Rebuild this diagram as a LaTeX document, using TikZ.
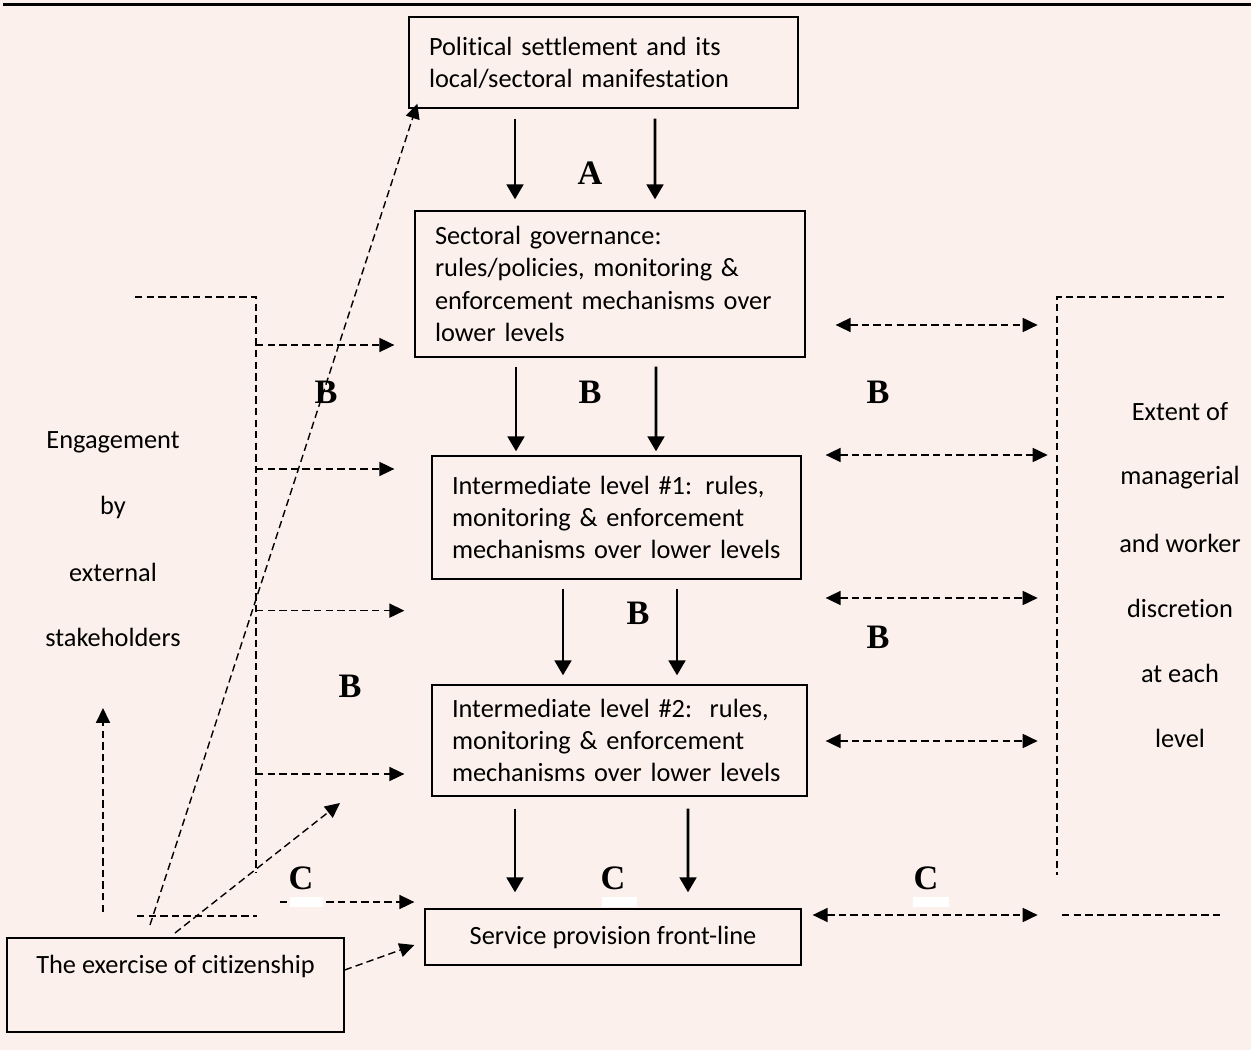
\documentclass[tikz,border=0pt]{standalone}
\usepackage{fontspec}
\setmainfont{Carlito}[Ligatures={NoCommon}]
\newfontfamily\letterfont{Liberation Serif}
\usetikzlibrary{arrows.meta, calc, positioning}
\definecolor{pagebg}{RGB}{251,240,236}
\newdimen\pxu \pxu=0.02cm

\begin{document}
\begin{tikzpicture}[x=0.02cm, y=-0.02cm,
  every node/.style={font=\fontsize{15}{18.3}\selectfont},
  box/.style={draw, line width=0.75pt, inner xsep=20\pxu, inner ysep=0pt, align=left},
  flow/.style={line width=1.6pt, -{Triangle[length=8.5pt,width=9.5pt]}},
  dline/.style={line width=0.8pt, dash pattern=on 4.2pt off 2.4pt},
  darr/.style={dline, -{Triangle[length=8.5pt,width=8pt]}},
  dboth/.style={dline, {Triangle[length=8.5pt,width=8pt]}-{Triangle[length=8.5pt,width=8pt]}},
  letter/.style={font=\letterfont\bfseries\fontsize{19.5}{22}\selectfont},
  word/.style={align=center}]
  % page
  \fill[pagebg] (0,0) rectangle (1251,1050);
  \useasboundingbox (0,0) rectangle (1251,1050);
  \draw[line width=1.7pt] (3,5) -- (1251,5);
  % levels
  \node[box, minimum width=389\pxu, minimum height=91\pxu, text width=349\pxu] (pol) at (603.5,62.5)
    {Political settlement and its\\local/sectoral manifestation};
  \node[box, minimum width=390\pxu, minimum height=146\pxu, text width=350\pxu] (sec) at (610,284)
    {Sectoral governance:\\rules/policies, monitoring \&\\enforcement mechanisms over\\lower levels};
  \node[box, minimum width=369\pxu, minimum height=123\pxu, text width=329\pxu] (int1) at (616.5,517.5)
    {Intermediate level \#1: rules,\\monitoring \& enforcement\\mechanisms over lower levels};
  \node[box, minimum width=375\pxu, minimum height=111\pxu, text width=335\pxu] (int2) at (619.5,740.5)
    {Intermediate level \#2:\ \ rules,\\monitoring \& enforcement\\mechanisms over lower levels};
  \node[box, minimum width=376\pxu, minimum height=56\pxu, align=center] (srv) at (613,937)
    {Service provision front-line};
  \node[box, minimum width=337\pxu, minimum height=94\pxu] (cit) at (175.5,985) {};
  \node (cittxt) at (175.5,966) {The exercise of citizenship};
  % solid arrows between levels
  \draw[flow] ([xshift=-88.5\pxu, yshift=-10\pxu]pol.south) -- ([xshift=-95\pxu, yshift=11\pxu]sec.north);
  \draw[flow] ([xshift=51.5\pxu, yshift=-10\pxu]pol.south) -- ([xshift=45\pxu, yshift=11\pxu]sec.north);
  \draw[flow] ([xshift=-94\pxu, yshift=-9\pxu]sec.south) -- ([xshift=-100.5\pxu, yshift=4\pxu]int1.north);
  \draw[flow] ([xshift=46\pxu, yshift=-9\pxu]sec.south) -- ([xshift=39.5\pxu, yshift=4\pxu]int1.north);
  \draw[flow] ([xshift=-53.5\pxu, yshift=-9\pxu]int1.south) -- ([xshift=-56.5\pxu, yshift=9\pxu]int2.north);
  \draw[flow] ([xshift=60.5\pxu, yshift=-9\pxu]int1.south) -- ([xshift=57.5\pxu, yshift=9\pxu]int2.north);
  \draw[flow] ([xshift=-104.5\pxu, yshift=-12\pxu]int2.south) -- ([xshift=-98\pxu, yshift=16\pxu]srv.north);
  \draw[flow] ([xshift=68.5\pxu, yshift=-12\pxu]int2.south) -- ([xshift=75\pxu, yshift=16\pxu]srv.north);
  % left side: external engagement
  \coordinate (ltop) at (135,297);
  \coordinate (lcor) at (256,297);
  \coordinate (lbot) at (256,872);
  \draw[dline] (ltop) -- (lcor) -- (lbot);
  \draw[dline] (137,916) -- (257,916);
  \coordinate (e1) at ($(sec.west)+(-20,61)$);
  \coordinate (e2) at ($(int1.west)+(-37,-48.5)$);
  \coordinate (e3) at ($(int1.south west)+(-27,31)$);
  \coordinate (e4) at ($(int2.west)+(-27,33.5)$);
  \foreach \e in {e1,e2,e3,e4}
    \draw[darr] (lcor |- \e) -- (\e);
  \coordinate (cst) at (280,902);
  \draw[darr] (cst) -- ($(srv.west)+(-10,-35)$);
  \coordinate (up0) at (103,912);
  \coordinate (up1) at (103,708);
  \draw[darr] (up0) -- (up1);
  \coordinate (dg1) at (150,925);
  \draw[darr] (dg1) -- ($(pol.south west)+(9,-5)$);
  \coordinate (dg2) at (175,933);
  \coordinate (dg2e) at (340,803);
  \draw[darr] (dg2) -- (dg2e);
  \draw[darr] ($(cit.east)+(0,-15)$) -- ($(srv.west)+(-10,8)$);
  % right side: discretion
  \draw[dline] (1224,297) -- (1057,297) -- (1057,875);
  \draw[dline] (1062,915) -- (1224,915);
  \draw[dboth] ($(sec.east)+(30,41)$) -- ($(sec.east)+(232,41)$);
  \draw[dboth] ($(int1.east)+(24,-62.5)$) -- ($(int1.east)+(246,-62.5)$);
  \draw[dboth] ($(int1.east)+(24,80.5)$) -- ($(int1.east)+(236,80.5)$);
  \draw[dboth] ($(int2.east)+(18,0.5)$) -- ($(int2.east)+(230,0.5)$);
  \draw[dboth] ($(srv.east)+(11,-22)$) -- ($(srv.east)+(236,-22)$);
  % side texts
  \node[word] (eng1) at (113,442) {Engagement};
  \node[word] (eng2) at (113,507) {by};
  \node[word] (eng3) at (113,572) {external};
  \node[word] (eng4) at (113,637) {stakeholders};
  \node[word] (ext1) at (1180,412) {Extent of};
  \node[word] (ext2) at (1180,478) {managerial};
  \node[word] (ext3) at (1180,543) {and worker};
  \node[word] (ext4) at (1180,608) {discretion};
  \node[word] (ext5) at (1180,673) {at each};
  \node[word] (ext6) at (1180,738) {level};
  % letters
  \node[letter] (lA) at (590,173) {A};
  \node[letter] (lB1) at (326,392) {B};
  \node[letter] (lB2) at (590,392) {B};
  \node[letter] (lB3) at (878,392) {B};
  \node[letter] (lB4) at (638,613) {B};
  \node[letter] (lB5) at (878,637) {B};
  \node[letter] (lB6) at (350,686) {B};
  \node[letter] (lC1) at (301,878) {C};
  \node[letter] (lC2) at (613,878) {C};
  \node[letter] (lC3) at (926,878) {C};
  \fill[white] (290,897) rectangle (323,907);
  \fill[white] (602,897) rectangle (637,907);
  \fill[white] (913,897) rectangle (949,907);
\end{tikzpicture}
\end{document}
